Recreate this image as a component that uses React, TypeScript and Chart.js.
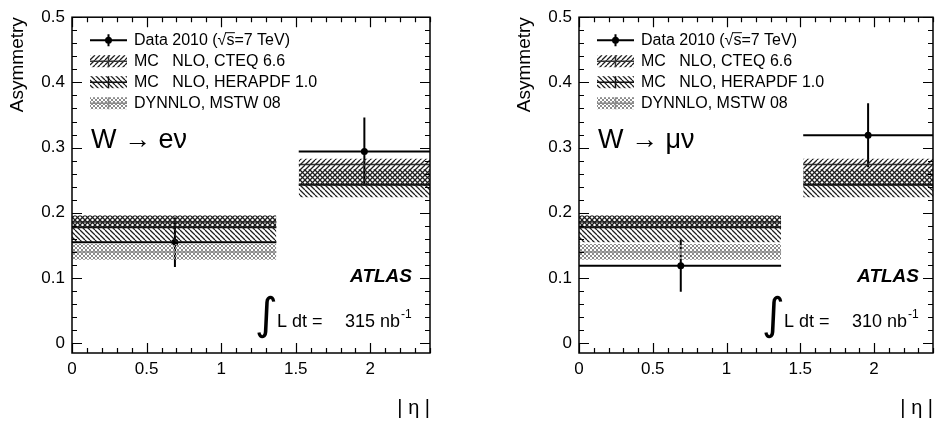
import React, { useEffect, useRef } from 'react';
import { Chart, registerables } from 'chart.js';

Chart.register(...registerables);

// ---- data ----
const binLow = [0, 1.52];
const binHigh = [1.37, 2.4];
const binMean = [0.69, 1.96];

const electronAsym = [0.155, 0.294];
const electronErr = [0.038, 0.052];
const muonAsym = [0.119, 0.319];
const muonErr = [0.040, 0.049];

const cteqCentral = [0.186, 0.274];
const cteqLow = [0.178, 0.241];
const cteqHigh = [0.196, 0.283];

const heraCentral = [0.178, 0.243];
const heraLow = [0.155, 0.224];
const heraHigh = [0.196, 0.267];

const dynnloCentral = [0.140];
const dynnloLow = [0.128];
const dynnloHigh = [0.152];

const xTickValues = [0, 0.5, 1, 1.5, 2];
const xTickLabels = ['0', '0.5', '1', '1.5', '2'];
const yTickValues = [0, 0.1, 0.2, 0.3, 0.4, 0.5];
const yTickLabels = ['0', '0.1', '0.2', '0.3', '0.4', '0.5'];

const legendLabels = [
  'Data 2010 (\u221As=7 TeV)',
  'MC   NLO, CTEQ 6.6',
  'MC   NLO, HERAPDF 1.0',
  'DYNNLO, MSTW 08',
];
const channelLabels = ['W \u2192 e\u03BD', 'W \u2192 \u03BC\u03BD'];
const lumiValues = ['315', '310'];
const xTitle = '| \u03B7 |';
const yTitle = 'Asymmetry';

const FONT = '"Liberation Sans", Arial, Helvetica, sans-serif';
const CLEAR = 'rgba(0,0,0,0)';

function makePattern(ctx: CanvasRenderingContext2D, kind: string, color: string, size: number, lw: number) {
  const c = document.createElement('canvas');
  c.width = size;
  c.height = size;
  const g = c.getContext('2d')!;
  g.strokeStyle = color;
  g.lineWidth = lw;
  const fwd = () => {
    g.beginPath();
    for (let k = -1; k <= 1; k++) {
      g.moveTo(k * size, size);
      g.lineTo(k * size + size, 0);
    }
    g.stroke();
  };
  const back = () => {
    g.beginPath();
    for (let k = -1; k <= 1; k++) {
      g.moveTo(k * size, 0);
      g.lineTo(k * size + size, size);
    }
    g.stroke();
  };
  if (kind === 'fwd' || kind === 'cross') fwd();
  if (kind === 'back' || kind === 'cross') back();
  return ctx.createPattern(c, 'repeat')!;
}

function buildConfig(ctx: CanvasRenderingContext2D, channel: number, padRight: number) {
  const asym = channel === 0 ? electronAsym : muonAsym;
  const err = channel === 0 ? electronErr : muonErr;
  const pCteq = makePattern(ctx, 'fwd', '#1e1e1e', 5, 1.25);
  const pHera = makePattern(ctx, 'back', '#1e1e1e', 5, 1.25);
  const pDyn = makePattern(ctx, 'cross', '#8c8c8c', 4, 1);

  const datasets: any[] = [];
  const seg = (b: number, y: number) => [
    { x: binLow[b], y },
    { x: binHigh[b], y },
  ];
  const addBand = (b: number, lo: number, hi: number, c: number, pat: any, lineColor: string, lw: number) => {
    datasets.push({ data: seg(b, hi), fill: '+1', backgroundColor: pat, borderColor: CLEAR, borderWidth: 1, pointRadius: 0 });
    datasets.push({ data: seg(b, lo), fill: false, borderColor: CLEAR, borderWidth: 1, pointRadius: 0 });
    datasets.push({ data: seg(b, c), fill: false, borderColor: lineColor, borderWidth: lw, pointRadius: 0 });
  };
  for (let b = 0; b < binLow.length; b++) {
    if (b < dynnloCentral.length) addBand(b, dynnloLow[b], dynnloHigh[b], dynnloCentral[b], pDyn, '#8a8a8a', 1.5);
    addBand(b, heraLow[b], heraHigh[b], heraCentral[b], pHera, '#111', 2);
    addBand(b, cteqLow[b], cteqHigh[b], cteqCentral[b], pCteq, '#333', 1.5);
  }
  for (let b = 0; b < binLow.length; b++) {
    datasets.push({ data: seg(b, asym[b]), fill: false, borderColor: '#000', borderWidth: 2, pointRadius: 0 });
    datasets.push({
      data: [
        { x: binMean[b], y: asym[b] - err[b] },
        { x: binMean[b], y: asym[b] + err[b] },
      ],
      fill: false, borderColor: '#000', borderWidth: 2, pointRadius: 0,
    });
    datasets.push({
      data: [{ x: binMean[b], y: asym[b] }],
      showLine: false, pointRadius: 3.5, pointBackgroundColor: '#000', pointBorderColor: '#000', pointBorderWidth: 0,
    });
  }

  const overlay = {
    id: 'rootStyle' + channel,
    afterDraw(chart: any) {
      const g: CanvasRenderingContext2D = chart.ctx;
      const a = chart.chartArea;
      const xs = chart.scales.x;
      const ys = chart.scales.y;
      g.save();
      // frame
      g.strokeStyle = '#000';
      g.lineWidth = 1.5;
      g.strokeRect(a.left, a.top, a.right - a.left, a.bottom - a.top);
      // ticks (inward, ROOT style)
      g.lineWidth = 1.2;
      g.beginPath();
      for (let i = 0; i <= 24; i++) {
        const v = i / 10;
        const px = Math.round(xs.getPixelForValue(v)) + 0.5;
        const len = i % 5 === 0 ? 10 : 5;
        g.moveTo(px, a.bottom);
        g.lineTo(px, a.bottom - len);
        g.moveTo(px, a.top);
        g.lineTo(px, a.top + len);
      }
      for (let i = 0; i <= 25; i++) {
        const v = i / 50;
        const py = Math.round(ys.getPixelForValue(v)) + 0.5;
        const len = i % 5 === 0 ? 10 : 5;
        g.moveTo(a.left, py);
        g.lineTo(a.left + len, py);
        g.moveTo(a.right, py);
        g.lineTo(a.right - len, py);
      }
      g.stroke();

      // legend
      const L = a.left;
      const T = a.top;
      const sx0 = L + 18;
      const sw = 37;
      const tx = L + 62;
      const pats = [null, pCteq, pHera, pDyn];
      const lineCols = ['#000', '#333', '#111', '#8a8a8a'];
      g.font = '16px ' + FONT;
      g.textBaseline = 'middle';
      g.textAlign = 'left';
      for (let i = 0; i < legendLabels.length; i++) {
        const y = T + 23 + i * 21;
        const mid = sx0 + sw / 2;
        if (i === 0) {
          g.strokeStyle = '#000';
          g.lineWidth = 2;
          g.beginPath();
          g.moveTo(sx0, y);
          g.lineTo(sx0 + sw, y);
          g.moveTo(mid, y - 6);
          g.lineTo(mid, y + 6);
          g.stroke();
          g.fillStyle = '#000';
          g.beginPath();
          g.arc(mid, y, 3.5, 0, Math.PI * 2);
          g.fill();
        } else {
          g.fillStyle = pats[i] as any;
          g.fillRect(sx0, y - 6, sw, 12);
          g.strokeStyle = lineCols[i];
          g.lineWidth = 1.5;
          g.beginPath();
          g.moveTo(sx0, y);
          g.lineTo(sx0 + sw, y);
          g.moveTo(mid, y - 6);
          g.lineTo(mid, y + 6);
          g.stroke();
        }
        g.fillStyle = '#000';
        g.fillText(legendLabels[i], tx, y);
        if (i === 0) {
          // overline of the square root over "s"
          const idx = legendLabels[0].indexOf('\u221A');
          const pre = g.measureText(legendLabels[0].slice(0, idx + 1)).width;
          const sW = g.measureText('s').width;
          g.strokeStyle = '#000';
          g.lineWidth = 1;
          g.beginPath();
          g.moveTo(tx + pre - 1, y - 7.5);
          g.lineTo(tx + pre + sW + 0.5, y - 7.5);
          g.stroke();
        }
      }

      // channel label
      g.font = '27px ' + FONT;
      g.fillText(channelLabels[channel], L + 19, T + 123);

      // ATLAS
      g.font = 'italic bold 19px ' + FONT;
      g.textAlign = 'right';
      g.fillText('ATLAS', L + 340, T + 260);

      // luminosity
      g.textAlign = 'left';
      g.font = '44px "DejaVu Sans", sans-serif';
      g.fillText('\u222B', L + 183, T + 300);
      g.font = '18px ' + FONT;
      g.fillText('L dt =', L + 205, T + 305);
      const numTxt = lumiValues[channel] + ' nb';
      g.fillText(numTxt, L + 273, T + 305);
      const w = g.measureText(numTxt).width;
      g.font = '12px ' + FONT;
      g.fillText('-1', L + 273 + w + 1, T + 297);
      g.restore();
    },
  };

  return {
    type: 'line',
    data: { datasets },
    options: {
      animation: false,
      responsive: false,
      maintainAspectRatio: false,
      events: [],
      layout: { padding: { left: 0, right: padRight, top: 13, bottom: 0 } },
      plugins: { legend: { display: false }, tooltip: { enabled: false } },
      elements: { line: { tension: 0 } },
      scales: {
        x: {
          type: 'linear',
          min: 0,
          max: 2.4,
          grid: { display: false, drawTicks: false },
          border: { display: false },
          afterBuildTicks: (s: any) => {
            s.ticks = xTickValues.map((value) => ({ value }));
          },
          afterFit: (s: any) => {
            s.height = 70;
          },
          ticks: {
            autoSkip: false,
            maxRotation: 0,
            padding: 6,
            color: '#000',
            font: { size: 17, family: FONT },
            callback: (_v: any, i: number) => xTickLabels[i],
          },
          title: {
            display: true,
            text: xTitle,
            align: 'end',
            color: '#000',
            font: { size: 20, family: FONT },
            padding: { top: 0, bottom: 3 },
          },
        },
        y: {
          type: 'linear',
          min: -0.015,
          max: 0.5,
          grid: { display: false, drawTicks: false },
          border: { display: false },
          afterBuildTicks: (s: any) => {
            s.ticks = yTickValues.map((value) => ({ value }));
          },
          afterFit: (s: any) => {
            s.width = 72;
          },
          ticks: {
            autoSkip: false,
            padding: 7,
            color: '#000',
            font: { size: 17, family: FONT },
            callback: (_v: any, i: number) => yTickLabels[i],
          },
          title: {
            display: true,
            text: yTitle,
            align: 'end',
            color: '#000',
            font: { size: 19, family: FONT },
            padding: { top: 6, bottom: 0 },
          },
        },
      },
    },
    plugins: [overlay],
  };
}

function Panel({ channel, left, width, padRight }: { channel: number; left: number; width: number; padRight: number }) {
  const ref = useRef<HTMLCanvasElement>(null);
  useEffect(() => {
    const canvas = ref.current!;
    const ctx = canvas.getContext('2d')!;
    const chart = new Chart(ctx, buildConfig(ctx, channel, padRight) as any);
    return () => chart.destroy();
  }, [channel, padRight]);
  return (
    <canvas
      ref={ref}
      width={width}
      height={423}
      style={{ position: 'absolute', left, top: 0, width, height: 423 }}
    />
  );
}

export default function App() {
  return (
    <div style={{ position: 'absolute', left: 0, top: 0, width: 937, height: 423, background: '#fff', overflow: 'hidden' }}>
      <Panel channel={0} left={0} width={500} padRight={70} />
      <Panel channel={1} left={507} width={430} padRight={0} />
    </div>
  );
}
